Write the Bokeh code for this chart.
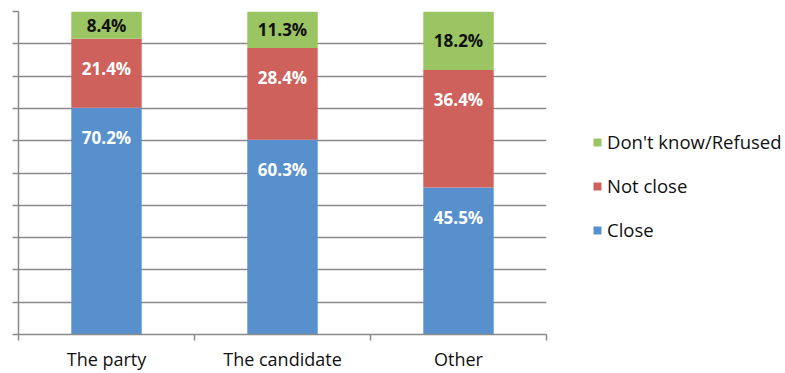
from bokeh.plotting import figure
from bokeh.models import (ColumnDataSource, Range1d, FixedTicker, Legend, LegendItem)
from bokeh.core.properties import value
from bokeh.embed import file_html
from bokeh.resources import INLINE

categories = ["The party", "The candidate", "Other"]
close = [70.2, 60.3, 45.5]
not_close = [21.4, 28.4, 36.4]
dont_know = [8.4, 11.3, 18.2]
series_names = ["Close", "Not close", "Don't know/Refused"]
y_ticks = [0, 10, 20, 30, 40, 50, 60, 70, 80, 90, 100]

colors = ["#5790CD", "#CE615C", "#9BC462"]
label_colors = ["white", "white", "#111111"]
FONT = "Open Sans"

x = [i + 0.5 for i in range(len(categories))]
data = {"x": x, "close": close, "not_close": not_close, "dont_know": dont_know}
src = ColumnDataSource(data)

p = figure(frame_width=528, frame_height=323, min_border_left=18, min_border_top=11,
           min_border_right=239, min_border_bottom=39,
           x_range=Range1d(0, len(categories)), y_range=Range1d(0, 100),
           output_backend="svg", toolbar_location=None, tools="")
p.outline_line_color = None
p.background_fill_color = "white"
p.border_fill_color = "white"

renderers = p.vbar_stack(["close", "not_close", "dont_know"], x="x", width=0.4,
                         color=colors, line_color=None, source=src)

# value labels
series = [close, not_close, dont_know]
bottoms = [0.0] * len(categories)
for si, vals in enumerate(series):
    lx, ly, lt = [], [], []
    for ci, v in enumerate(vals):
        top = bottoms[ci] + v
        if si == len(series) - 1:
            yy = bottoms[ci] + v / 2.0
        else:
            yy = top - 9.2
        lx.append(x[ci]); ly.append(yy); lt.append(f"{v:.1f}%")
        bottoms[ci] = top
    p.text(x=lx, y=ly, text=lt, text_align="center", text_baseline="middle",
           text_font=value(FONT), text_font_style="bold", text_font_size="17px",
           text_color=label_colors[si])

grid_color = "#8A8A8A"
# y axis
yax = p.yaxis[0]
yax.ticker = FixedTicker(ticks=y_ticks)
yax.major_label_overrides = {t: "" for t in y_ticks}
yax.major_label_text_font_size = "1px"
yax.major_label_standoff = 0
yax.major_tick_out = 6
yax.major_tick_in = 0
yax.minor_tick_line_color = None
yax.axis_line_color = grid_color
yax.axis_line_width = 1.5
yax.major_tick_line_color = grid_color
yax.major_tick_line_width = 1.5

p.ygrid.ticker = FixedTicker(ticks=y_ticks)
p.ygrid.grid_line_color = grid_color
p.ygrid.grid_line_width = 1.5
p.xgrid.grid_line_color = None

# x axis
xax = p.xaxis[0]
xax.ticker = FixedTicker(ticks=x, minor_ticks=list(range(len(categories) + 1)))
xax.major_label_overrides = {xi: c for xi, c in zip(x, categories)}
xax.major_tick_line_color = None
xax.minor_tick_line_color = grid_color
xax.minor_tick_line_width = 1.5
xax.minor_tick_out = 6
xax.minor_tick_in = 0
xax.axis_line_color = grid_color
xax.axis_line_width = 1.5
xax.major_label_text_font = FONT
xax.major_label_text_font_size = "18px"
xax.major_label_text_color = "#111111"
xax.major_label_standoff = 6

items = [LegendItem(label=series_names[i], renderers=[renderers[i]]) for i in (2, 1, 0)]
legend = Legend(items=items, location=(46, 92), orientation="vertical",
                border_line_color=None, background_fill_alpha=0,
                padding=0, margin=0, spacing=19, glyph_width=10, glyph_height=10,
                label_height=20, label_standoff=5,
                label_text_font=FONT, label_text_font_size="18.5px",
                label_text_color="#111111")
p.add_layout(legend, "right")

open("out.html", "w").write(file_html(p, INLINE))
